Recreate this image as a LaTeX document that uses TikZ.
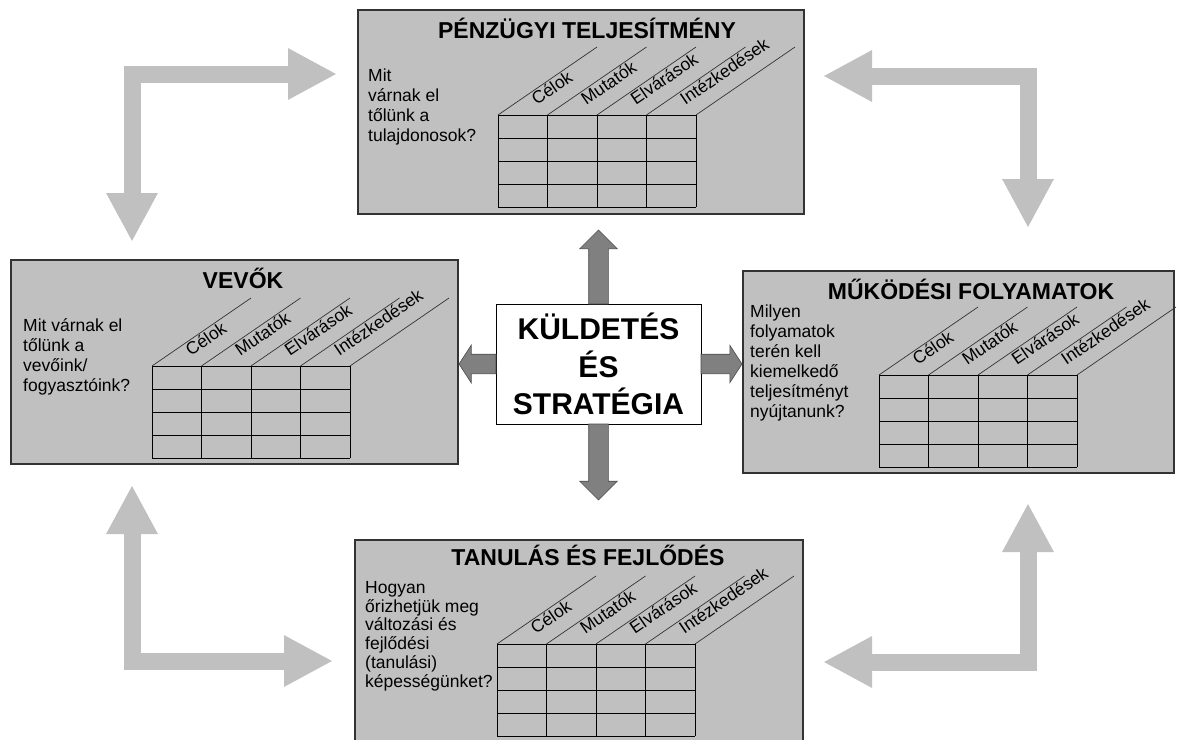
\documentclass[tikz,border=0pt]{standalone}
\usepackage{fontspec}
\setmainfont{Liberation Sans}
\usetikzlibrary{arrows.meta,shapes.arrows}

\definecolor{silver}{HTML}{C0C0C0}
\definecolor{hubgray}{HTML}{808080}

\begin{document}
\begin{tikzpicture}[x=1pt,y=-1pt]
    % Styles for the four perspectives
    \tikzset{
        panel/.style={draw=black!80, line width=1.2pt, fill=silver,
            anchor=north west, inner sep=0pt, outer sep=0pt},
        paneltitle/.style={anchor=base, inner sep=0pt,
            font=\bfseries\fontsize{23}{27}\selectfont},
        bodytext/.style={anchor=north west, align=left, inner sep=0pt,
            font=\fontsize{17.5}{20}\selectfont},
        collabel/.style={anchor=base west, rotate=34.5, inner sep=0pt,
            font=\fontsize{17.5}{20}\selectfont},
        gridline/.style={line width=0.9pt, black},
        diagline/.style={line width=0.7pt, black!80},
        cornerarrow/.style={line width=17pt, draw=silver, line join=miter,
            {Triangle[length=49pt,width=48pt]}-{Triangle[length=49pt,width=48pt]}},
        hubbox/.style={draw, line width=0.8pt, fill=white, minimum width=205,
            minimum height=120, align=center, inner sep=0pt, outer sep=0pt,
            font=\bfseries\fontsize{30}{37.5}\selectfont},
        hubarrow/.style={single arrow, draw=black!70, fill=hubgray, line width=0.6pt,
            inner sep=9.5pt, outer sep=0pt, single arrow head extend=9pt, anchor=tail}
    }
    \useasboundingbox (0,0) rectangle (1178,739);
    \clip (0,0) rectangle (1178,739);

    % Boxes
    \node[panel, minimum width=446, minimum height=204] (P) at (358,10) {};
    \node[panel, minimum width=447, minimum height=204] (V) at (11,260) {};
    \node[panel, minimum width=431, minimum height=202] (M) at (743,271) {};
    \node[panel, minimum width=448, minimum height=204] (T) at (355,540) {};

    % Titles and questions
    \node[paneltitle] (Ptitle) at ([shift={(6,28)}]P.north) {PÉNZÜGYI TELJESÍTMÉNY};
    \node[paneltitle] (Vtitle) at ([shift={(8.5,28)}]V.north) {VEVŐK};
    \node[paneltitle] (Mtitle) at ([shift={(12.5,28)}]M.north) {MŰKÖDÉSI FOLYAMATOK};
    \node[paneltitle] (Ttitle) at ([shift={(9,25)}]T.north) {TANULÁS ÉS FEJLŐDÉS};

    \node[bodytext] (Ptext) at ([shift={(10,59)}]P.north west)
        {Mit\\várnak el\\tőlünk a\\tulajdonosok?};
    \node[bodytext] (Vtext) at ([shift={(12,58)}]V.north west)
        {Mit várnak el\\tőlünk a\\vevőink/\\fogyasztóink?};
    \node[bodytext] (Mtext) at ([shift={(7,34)}]M.north west)
        {Milyen\\folyamatok\\terén kell\\kiemelkedő\\teljesítményt\\nyújtanunk?};
    \node[bodytext, font=\fontsize{17.5}{18.8}\selectfont] (Ttext) at ([shift={(10,41)}]T.north west)
        {Hogyan\\őrizhetjük meg\\változási és\\fejlődési\\(tanulási)\\képességünket?};

    % Grid origins
    \coordinate (Pg) at ([shift={(140,105)}]P.north west);
    \coordinate (Vg) at ([shift={(141,106)}]V.north west);
    \coordinate (Mg) at ([shift={(136,104)}]M.north west);
    \coordinate (Tg) at ([shift={(142,104)}]T.north west);

    \foreach \g in {Pg,Vg,Mg,Tg} {
        \begin{scope}[shift={(\g)}]
            \foreach \i in {0,...,4} {
                \draw[gridline] (\i*49.5,0) -- ++(0,92);
                \draw[gridline] (0,\i*23) -- ++(198,0);
                \draw[diagline] (\i*49.5,0) -- ++(99,-68);
            }
            \foreach \lab [count=\k from 0] in {Célok,Mutatók,Elvárások,Intézkedések}
                \node[collabel] (\g lab\k) at (\k*49.5+38.8,-9.2) {\lab};
        \end{scope}
    }

    % Corner arrows
    \draw[cornerarrow] ([shift={(-21,64)}]P.north west) -| ([shift={(121,-18)}]V.north west);
    \draw[cornerarrow] ([shift={(19,66)}]P.north east) -| ([shift={(285,-43)}]M.north west);
    \draw[cornerarrow] ([shift={(121,21)}]V.south west) |- ([shift={(-22,121)}]T.north west);
    \draw[cornerarrow] ([shift={(285,30)}]M.south west) |- ([shift={(20,122)}]T.north east);

    % Mission and strategy
    \node[hubbox] (C) at (598.5,364) {KÜLDETÉS\\ÉS\\STRATÉGIA};
    \node[hubarrow, rotate=90, minimum height=74] (Cup) at (C.north) {};
    \node[hubarrow, rotate=-90, minimum height=76] (Cdown) at (C.south) {};
    \node[hubarrow, rotate=180, minimum height=37, single arrow tip angle=114] (Cleft) at (C.west) {};
    \node[hubarrow, minimum height=41, single arrow tip angle=114] (Cright) at (C.east) {};
\end{tikzpicture}
\end{document}
